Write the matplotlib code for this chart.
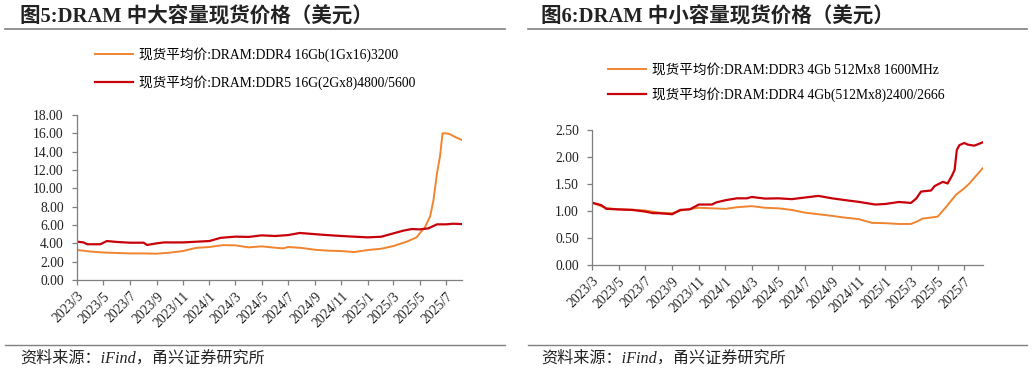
import matplotlib
matplotlib.use("Agg")
import matplotlib.pyplot as plt
import matplotlib.dates as mdates
from matplotlib.lines import Line2D
import pandas as pd

COLOR_ORANGE = "#F0842F"
COLOR_RED = "#C8000A"
COLOR_AXIS = "#7F7F7F"
COLOR_TEXT = "#222222"

plt.rcParams['font.family'] = ['Liberation Serif', 'Noto Sans CJK SC']
plt.rcParams['axes.unicode_minus'] = False

# ---- Figure 5: large-capacity DRAM spot price (USD) ----
big_ddr4_dates = ["2023-03-01", "2023-03-16", "2023-04-01", "2023-05-01", "2023-06-01", "2023-07-01",
                  "2023-08-01", "2023-09-01", "2023-10-01", "2023-11-01", "2023-12-01", "2024-01-01",
                  "2024-02-01", "2024-03-01", "2024-04-01", "2024-05-01", "2024-06-01", "2024-06-20",
                  "2024-07-01", "2024-08-01", "2024-09-01", "2024-10-01", "2024-11-01", "2024-12-01",
                  "2025-01-01", "2025-02-01", "2025-03-01", "2025-04-01", "2025-04-24", "2025-05-01",
                  "2025-05-13", "2025-05-25", "2025-06-02", "2025-06-10", "2025-06-17", "2025-06-23",
                  "2025-07-01", "2025-07-10", "2025-07-22", "2025-08-07"]
big_ddr4_vals = [3.27, 3.20, 3.10, 3.00, 2.95, 2.90,
                 2.90, 2.87, 2.98, 3.16, 3.50, 3.60,
                 3.80, 3.78, 3.56, 3.67, 3.52, 3.45,
                 3.60, 3.50, 3.30, 3.20, 3.16, 3.05,
                 3.27, 3.41, 3.70, 4.18, 4.65, 5.08,
                 5.74, 6.90, 8.70, 11.60, 13.45, 16.00,
                 16.00, 15.90, 15.60, 15.27]

big_ddr5_dates = ["2023-03-01", "2023-03-16", "2023-03-25", "2023-04-24", "2023-05-09", "2023-06-01",
                  "2023-07-01", "2023-08-02", "2023-08-10", "2023-09-01", "2023-09-18", "2023-11-01",
                  "2024-01-01", "2024-01-27", "2024-03-01", "2024-04-01", "2024-05-01", "2024-06-01",
                  "2024-07-01", "2024-07-28", "2024-09-01", "2024-09-29", "2024-11-01", "2025-01-01",
                  "2025-02-01", "2025-03-01", "2025-03-24", "2025-04-13", "2025-05-01", "2025-05-21",
                  "2025-06-10", "2025-07-01", "2025-07-18", "2025-08-07"]
big_ddr5_vals = [4.18, 4.10, 3.90, 3.90, 4.25, 4.15,
                 4.07, 4.07, 3.82, 4.00, 4.10, 4.10,
                 4.25, 4.60, 4.73, 4.70, 4.87, 4.80,
                 4.90, 5.13, 5.00, 4.90, 4.80, 4.65,
                 4.72, 5.08, 5.38, 5.56, 5.52, 5.63,
                 6.07, 6.07, 6.14, 6.10]

# ---- Figure 6: small-capacity DRAM spot price (USD) ----
small_ddr3_dates = ["2023-03-01", "2023-04-03", "2023-05-01", "2023-06-01", "2023-07-01", "2023-08-01",
                    "2023-09-01", "2023-09-26", "2023-11-01", "2023-12-01", "2024-01-01", "2024-01-27",
                    "2024-03-01", "2024-04-01", "2024-05-01", "2024-06-01", "2024-07-01", "2024-08-01",
                    "2024-09-01", "2024-09-28", "2024-11-01", "2024-12-02", "2025-01-01", "2025-02-01",
                    "2025-03-01", "2025-03-13", "2025-03-28", "2025-05-01", "2025-05-20", "2025-06-12",
                    "2025-07-01", "2025-07-13", "2025-08-12"]
small_ddr3_vals = [1.154, 1.055, 1.03, 1.025, 1.01, 0.97,
                   0.96, 1.02, 1.06, 1.05, 1.04, 1.07,
                   1.09, 1.06, 1.05, 1.02, 0.97, 0.94,
                   0.91, 0.88, 0.85, 0.78, 0.775, 0.76,
                   0.76, 0.80, 0.86, 0.895, 1.07, 1.30,
                   1.42, 1.51, 1.79]

small_ddr4_dates = ["2023-03-01", "2023-03-22", "2023-04-03", "2023-05-01", "2023-06-01", "2023-07-01",
                    "2023-07-19", "2023-08-01", "2023-09-01", "2023-09-19", "2023-10-11", "2023-11-01",
                    "2023-12-01", "2023-12-11", "2024-01-01", "2024-01-27", "2024-02-19", "2024-03-01",
                    "2024-04-01", "2024-05-01", "2024-06-01", "2024-07-01", "2024-08-01", "2024-09-01",
                    "2024-10-12", "2024-11-01", "2024-12-09", "2025-01-01", "2025-02-01", "2025-03-01",
                    "2025-03-13", "2025-03-24", "2025-04-16", "2025-04-24", "2025-05-01", "2025-05-13",
                    "2025-05-24", "2025-06-02", "2025-06-09", "2025-06-14", "2025-06-20", "2025-07-01",
                    "2025-07-09", "2025-07-24", "2025-08-12"]
small_ddr4_vals = [1.154, 1.11, 1.04, 1.03, 1.02, 0.99,
                   0.96, 0.96, 0.94, 1.02, 1.03, 1.12,
                   1.12, 1.16, 1.20, 1.235, 1.235, 1.26,
                   1.23, 1.235, 1.22, 1.25, 1.28, 1.235,
                   1.19, 1.17, 1.12, 1.13, 1.167, 1.15,
                   1.23, 1.36, 1.38, 1.46, 1.49, 1.54,
                   1.51, 1.64, 1.76, 2.13, 2.22, 2.26,
                   2.23, 2.21, 2.27]

big_labels = ["现货平均价:DRAM:DDR4 16Gb(1Gx16)3200", "现货平均价:DRAM:DDR5 16G(2Gx8)4800/5600"]
small_labels = ["现货平均价:DRAM:DDR3 4Gb 512Mx8 1600MHz", "现货平均价:DRAM:DDR4 4Gb(512Mx8)2400/2666"]
titles = ["图5:DRAM 中大容量现货价格（美元）", "图6:DRAM 中小容量现货价格（美元）"]
source_text = "资料来源：iFind，甬兴证券研究所"
big_yticks = [0, 2, 4, 6, 8, 10, 12, 14, 16, 18]
small_yticks = [0, 0.5, 1.0, 1.5, 2.0, 2.5]


def style_axes(ax, xmax, yticks):
    ax.set_facecolor("white")
    for side in ["top", "right"]:
        ax.spines[side].set_visible(False)
    for side in ["left", "bottom"]:
        ax.spines[side].set_color(COLOR_AXIS)
        ax.spines[side].set_linewidth(0.9)
    ax.set_xlim(pd.Timestamp("2023-03-01"), pd.Timestamp(xmax))
    ax.set_ylim(yticks[0], yticks[-1])
    ax.set_yticks(yticks)
    ax.yaxis.set_major_formatter(plt.FuncFormatter(lambda v, p: f"{v:.2f}"))
    ax.xaxis.set_major_locator(mdates.MonthLocator(bymonth=[1, 3, 5, 7, 9, 11]))
    ax.xaxis.set_major_formatter(plt.FuncFormatter(
        lambda v, p: f"{mdates.num2date(v).year}/{mdates.num2date(v).month}"))
    ax.tick_params(axis="both", colors=COLOR_AXIS, labelcolor=COLOR_TEXT, labelsize=9.8,
                   length=3.5, width=0.9)
    ax.tick_params(axis="y", pad=6)
    for lab in ax.get_xticklabels():
        lab.set_rotation(45)
        lab.set_ha("right")
        lab.set_rotation_mode("anchor")


fig = plt.figure(figsize=(10.32, 3.72), dpi=100)

ax1 = fig.add_axes([0.0746, 0.2473, 0.3731, 0.4436])
ax1.plot(pd.to_datetime(big_ddr4_dates), big_ddr4_vals, color=COLOR_ORANGE, lw=1.4)
ax1.plot(pd.to_datetime(big_ddr5_dates), big_ddr5_vals, color=COLOR_RED, lw=1.6)
style_axes(ax1, "2025-08-07", big_yticks)

ax2 = fig.add_axes([0.5736, 0.2876, 0.3789, 0.3629])
ax2.plot(pd.to_datetime(small_ddr3_dates), small_ddr3_vals, color=COLOR_ORANGE, lw=1.4)
ax2.plot(pd.to_datetime(small_ddr4_dates), small_ddr4_vals, color=COLOR_RED, lw=1.6)
style_axes(ax2, "2025-08-13", small_yticks)

# legends
handles = [Line2D([], [], color=COLOR_ORANGE, lw=1.4), Line2D([], [], color=COLOR_RED, lw=1.6)]
fig.legend(handles, big_labels, loc="upper left", bbox_to_anchor=(95 / 1032, 1 - 47.5 / 372),
           frameon=False, fontsize=9.8, handlelength=2.8, handletextpad=0.4,
           labelspacing=0.93, borderpad=0, borderaxespad=0)
fig.legend(handles, small_labels, loc="upper left", bbox_to_anchor=(608 / 1032, 1 - 63.5 / 372),
           frameon=False, fontsize=9.8, handlelength=2.8, handletextpad=0.4,
           labelspacing=0.78, borderpad=0, borderaxespad=0)

# titles, rules and source notes
for x0, x1, tx, title in [(5, 505, 20, titles[0]), (528, 1027, 541, titles[1])]:
    fig.text(tx / 1032, 1 - 17 / 372, title, fontsize=14.8, fontweight="bold",
             color=COLOR_TEXT, va="center", ha="left")
    fig.add_artist(Line2D([x0 / 1032, x1 / 1032], [1 - 29 / 372, 1 - 29 / 372],
                          color="#808080", lw=1.2))
    fig.add_artist(Line2D([x0 / 1032, x1 / 1032], [1 - 345 / 372, 1 - 345 / 372],
                          color="#808080", lw=1.0))
    fig.text(tx / 1032, 1 - 359 / 372, source_text, fontsize=11.6, style="italic",
             color=COLOR_TEXT, va="center", ha="left")

fig.savefig("out.png", dpi=100)
